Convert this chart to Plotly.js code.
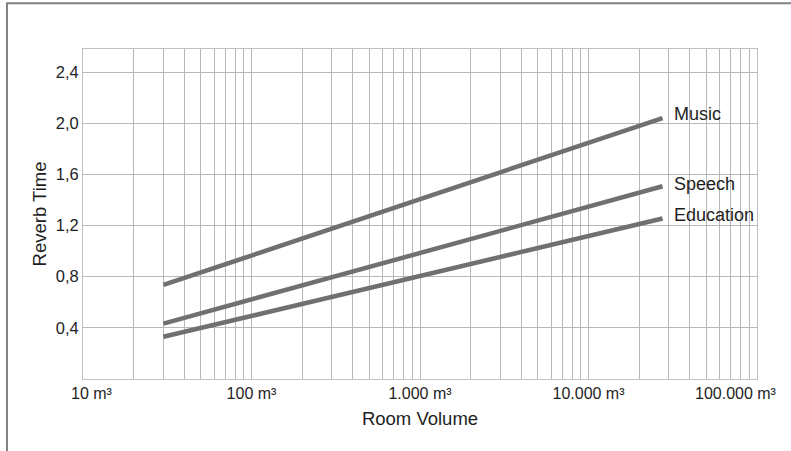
<!DOCTYPE html>
<html>
<head>
<meta charset="utf-8">
<script src="https://cdn.plot.ly/plotly-3.0.1.min.js"></script>
<style>html,body{margin:0;padding:0;background:#fff;}#chart{width:791px;height:451px;}</style>
</head>
<body>
<div id="chart"></div>
<script>
// Data
const volume = [30, 27500];
const music = [0.735, 2.04];
const speech = [0.433, 1.507];
const education = [0.33, 1.255];
const seriesNames = ['Music', 'Speech', 'Education'];

const xTickVals = [10, 100, 1000, 10000, 100000];
const xTickText = ['10 m³', '100 m³', '1.000 m³', '10.000 m³', '100.000 m³'];
const yTickVals = [0.4, 0.8, 1.2, 1.6, 2.0, 2.4];
const yTickText = ['0,4', '0,8', '1,2', '1,6', '2,0', '2,4'];

// gridlines at every 1..9 x 10^n (log-paper grid)
const gridVals = [];
for (let d = 1; d <= 4; d++) {
  for (let k = 1; k <= 9; k++) gridVals.push(k * Math.pow(10, d));
}
gridVals.push(100000);
const gridText = gridVals.map(v => {
  const i = xTickVals.indexOf(v);
  return (i > 0 && i < xTickVals.length - 1) ? xTickText[i] : '';
});

const FONT = 'Liberation Sans, Arial, sans-serif';
const TXT = '#1e1e1e';
const lineColor = '#707070';
const allSeries = [music, speech, education];

const traces = allSeries.map((s, i) => ({
  x: volume, y: s, type: 'scatter', mode: 'lines', name: seriesNames[i],
  line: {color: lineColor, width: 4.5},
  hoverinfo: 'skip'
}));

const labelShift = [4, 2, 3];
const annotations = allSeries.map((s, i) => ({
  x: Math.log10(volume[volume.length - 1]), y: s[s.length - 1],
  xref: 'x', yref: 'y', text: seriesNames[i], showarrow: false,
  xanchor: 'left', yanchor: 'middle', xshift: 9, yshift: labelShift[i],
  font: {family: FONT, size: 18, color: TXT}
}));
// end tick labels placed as in the reference (first shifted right, last shifted left to stay inside)
annotations.push({
  x: Math.log10(xTickVals[0]), y: 0, xref: 'x', yref: 'paper',
  text: xTickText[0], showarrow: false, xanchor: 'center', yanchor: 'top',
  xshift: 9, yshift: -4, font: {family: FONT, size: 16, color: TXT}
});
annotations.push({
  x: Math.log10(xTickVals[xTickVals.length - 1]), y: 0, xref: 'x', yref: 'paper',
  text: xTickText[xTickText.length - 1], showarrow: false, xanchor: 'center', yanchor: 'top',
  xshift: -21, yshift: -4, font: {family: FONT, size: 16, color: TXT}
});

const layout = {
  width: 791, height: 451,
  margin: {l: 83, r: 34, t: 49, b: 72, pad: 0},
  paper_bgcolor: '#fff', plot_bgcolor: '#fff',
  showlegend: false,
  font: {family: FONT, color: TXT},
  xaxis: {
    type: 'log', range: [1, 5],
    tickmode: 'array', tickvals: gridVals, ticktext: gridText,
    showgrid: true, gridcolor: '#b8b8b8', gridwidth: 1,
    showline: true, mirror: true, linecolor: '#c0c0c0', linewidth: 1,
    ticks: '', zeroline: false,
    tickfont: {family: FONT, size: 16, color: TXT},
    title: {text: 'Room Volume', font: {family: FONT, size: 18.5, color: TXT}, standoff: 10}
  },
  yaxis: {
    range: [0, 2.58],
    tickmode: 'array', tickvals: yTickVals, ticktext: yTickText,
    showgrid: true, gridcolor: '#b8b8b8', gridwidth: 1,
    showline: true, mirror: true, linecolor: '#c0c0c0', linewidth: 1,
    ticks: '', zeroline: false,
    tickfont: {family: FONT, size: 16.5, color: TXT},
    title: {text: 'Reverb Time', font: {family: FONT, size: 18.5, color: TXT}, standoff: 4}
  },
  annotations: annotations,
  shapes: [{
    type: 'rect', xref: 'paper', yref: 'paper',
    x0: -0.1128, x1: 1.2, y0: -0.4, y1: 1.1385,
    line: {color: '#808080', width: 2}, fillcolor: 'rgba(0,0,0,0)', layer: 'above'
  }]
};

Plotly.newPlot('chart', traces, layout, {displayModeBar: false, staticPlot: true});
</script>
</body>
</html>
